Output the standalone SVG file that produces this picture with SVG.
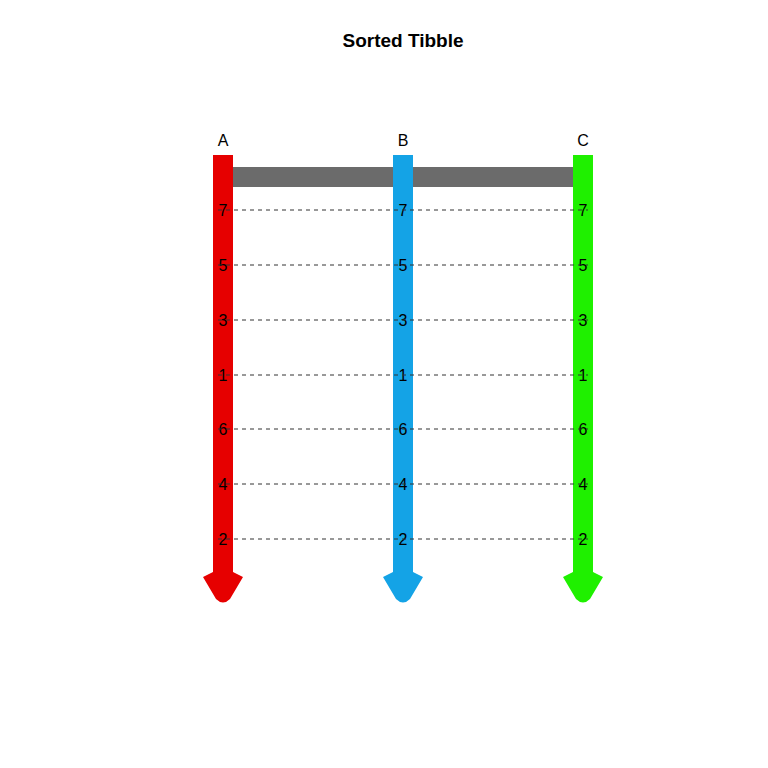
<svg xmlns="http://www.w3.org/2000/svg" width="768" height="768" viewBox="0 0 768 768">
<style>
text{font-family:"Liberation Sans",Arial,sans-serif;fill:#000}
.t{font-size:19px;font-weight:bold}
.h{font-size:16px}
.n{font-size:16px}
.d{stroke:#333;stroke-width:1;stroke-dasharray:4,4;fill:none}
</style>
<defs>
<path id="col" d="M-10,0 H10 V417 L20,422 L7,444 Q0,451 -7,444 L-20,422 L-10,417 Z"/>
</defs>
<rect width="768" height="768" fill="#fff"/>
<text class="t" x="403" y="47" text-anchor="middle">Sorted Tibble</text>
<rect x="233" y="167" width="340" height="20" fill="#6b6b6b"/>
<g id="colA">
<use href="#col" x="223" y="155" fill="#e60000"/>
<text class="h" x="223" y="146" text-anchor="middle">A</text>
</g>
<g id="colB">
<use href="#col" x="403" y="155" fill="#14a3e6"/>
<text class="h" x="403" y="146" text-anchor="middle">B</text>
</g>
<g id="colC">
<use href="#col" x="583" y="155" fill="#1ff000"/>
<text class="h" x="583" y="146" text-anchor="middle">C</text>
</g>
<g id="labels" text-anchor="middle">
<text class="n" x="223" y="216">7</text><text class="n" x="403" y="216">7</text><text class="n" x="583" y="216">7</text>
<text class="n" x="223" y="271">5</text><text class="n" x="403" y="271">5</text><text class="n" x="583" y="271">5</text>
<text class="n" x="223" y="326">3</text><text class="n" x="403" y="326">3</text><text class="n" x="583" y="326">3</text>
<text class="n" x="223" y="381">1</text><text class="n" x="403" y="381">1</text><text class="n" x="583" y="381">1</text>
<text class="n" x="223" y="435">6</text><text class="n" x="403" y="435">6</text><text class="n" x="583" y="435">6</text>
<text class="n" x="223" y="490">4</text><text class="n" x="403" y="490">4</text><text class="n" x="583" y="490">4</text>
<text class="n" x="223" y="545">2</text><text class="n" x="403" y="545">2</text><text class="n" x="583" y="545">2</text>
</g>
<g id="connectors">
<line class="d" x1="218" y1="210" x2="588" y2="210"/>
<line class="d" x1="218" y1="265" x2="588" y2="265"/>
<line class="d" x1="218" y1="320" x2="588" y2="320"/>
<line class="d" x1="218" y1="375" x2="588" y2="375"/>
<line class="d" x1="218" y1="429" x2="588" y2="429"/>
<line class="d" x1="218" y1="484" x2="588" y2="484"/>
<line class="d" x1="218" y1="539" x2="588" y2="539"/>
</g>
</svg>
